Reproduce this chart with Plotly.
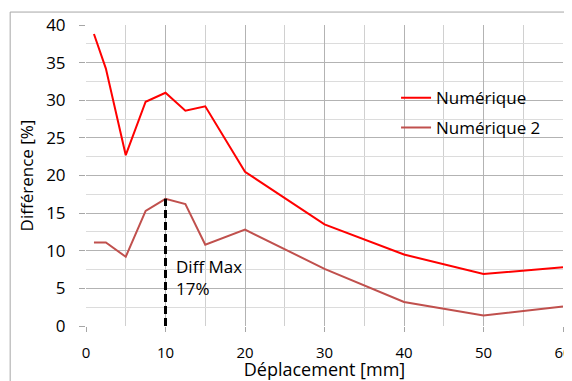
import plotly.graph_objects as go

# Data
deplacement = [1, 2.5, 5, 7.5, 10, 12.5, 15, 20, 30, 40, 50, 60]
numerique = [38.8, 34.2, 22.7, 29.8, 31.0, 28.6, 29.2, 20.5, 13.5, 9.5, 6.9, 7.8]
numerique_2 = [11.1, 11.1, 9.2, 15.3, 16.9, 16.2, 10.8, 12.8, 7.6, 3.2, 1.4, 2.6]
diff_max_x = [10, 10]
diff_max_y = [0, 16.9]

FONT = "Open Sans"

fig = go.Figure()
fig.add_trace(go.Scatter(x=deplacement, y=numerique, mode="lines", name="Numérique",
                         line=dict(color="#FF0000", width=2), legend="legend"))
fig.add_trace(go.Scatter(x=deplacement, y=numerique_2, mode="lines", name="Numérique 2",
                         line=dict(color="#C0504D", width=2), legend="legend2"))
fig.add_trace(go.Scatter(x=diff_max_x, y=diff_max_y, mode="lines", showlegend=False,
                         line=dict(color="black", width=3, dash="8px,4px")))

fig.add_annotation(x=10, y=6.5, xref="x", yref="y", text="Diff Max<br>17%",
                   showarrow=False, xanchor="left", yanchor="middle", align="left",
                   xshift=8, font=dict(family=FONT, size=17, color="black"))

# outer chart frame (top and left edges; the rest falls outside the window)
fig.add_shape(type="line", xref="paper", yref="paper", x0=-0.159, x1=1.02, y0=1.043, y1=1.043,
              line=dict(color="#A6A6A6", width=1), layer="above")
fig.add_shape(type="line", xref="paper", yref="paper", x0=-0.159, x1=-0.159, y0=-0.2, y1=1.043,
              line=dict(color="#A6A6A6", width=1), layer="above")

fig.update_xaxes(range=[0, 60], tickvals=[0, 10, 20, 30, 40, 50, 60],
                 showgrid=True, gridcolor="#B3B3B3", gridwidth=1,
                 minor=dict(dtick=5, showgrid=True, gridcolor="#D0D0D0"),
                 ticks="outside", ticklen=5, tickcolor="#A6A6A6",
                 ticklabelstandoff=8, ticklabeloverflow="allow",
                 zeroline=False, showline=False, automargin=False,
                 tickfont=dict(family=FONT, size=15, color="black"),
                 title=dict(text="Déplacement [mm]", standoff=1,
                            font=dict(family=FONT, size=18, color="black")))
fig.update_yaxes(range=[0, 40], dtick=5,
                 showgrid=True, gridcolor="#B3B3B3", gridwidth=1,
                 minor=dict(dtick=2.5, showgrid=True, gridcolor="#DCDCDC"),
                 ticks="outside", ticklen=6, tickcolor="#A6A6A6",
                 ticklabelstandoff=10,
                 zeroline=False, showline=False, automargin=False,
                 tickfont=dict(family=FONT, size=17, color="black"),
                 title=dict(text="Différence [%]", standoff=8,
                            font=dict(family=FONT, size=17, color="black")))

legend_style = dict(xanchor="left", yanchor="middle", bgcolor="rgba(0,0,0,0)",
                    itemwidth=30, font=dict(family=FONT, size=17, color="black"))
fig.update_layout(
    width=564, height=373,
    margin=dict(l=78, r=9, t=17, b=55),
    plot_bgcolor="white", paper_bgcolor="white",
    legend=dict(x=0.65, y=0.757, **legend_style),
    legend2=dict(x=0.65, y=0.658, **legend_style),
)

fig.write_html("out.html")
